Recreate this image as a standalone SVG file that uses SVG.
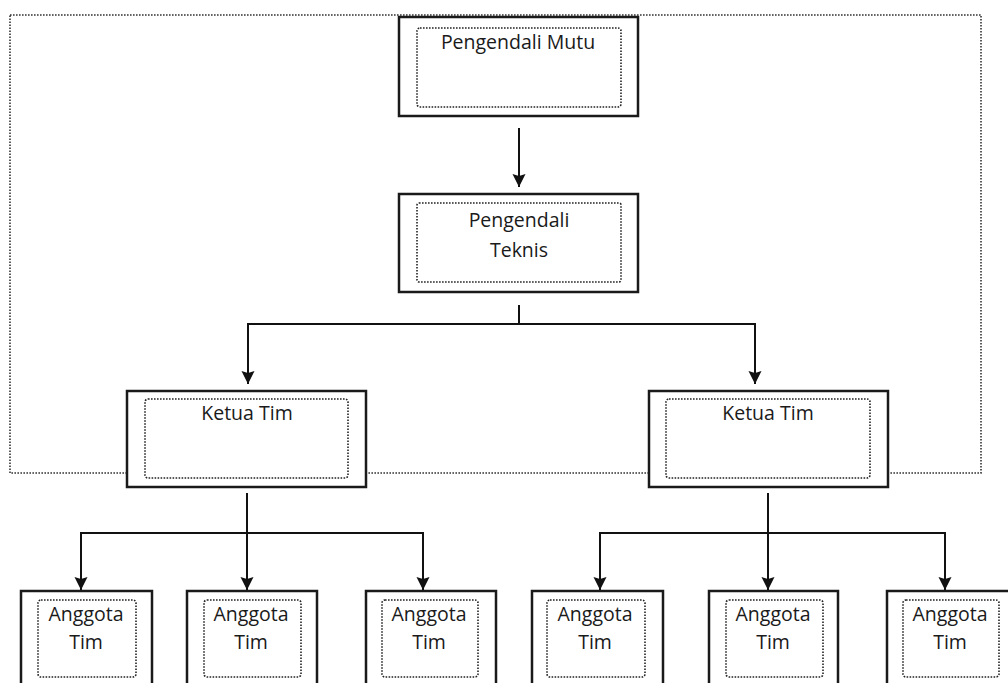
<svg xmlns="http://www.w3.org/2000/svg" width="1008" height="683" viewBox="0 0 1008 683">
  <style>
    .frame { fill: none; stroke: #333; stroke-width: 1.6; stroke-dasharray: 1.6 1.4; }
    .box { fill: #fff; stroke: #1a1a1a; stroke-width: 2.5; }
    .inner { fill: none; stroke: #222; stroke-width: 1.6; stroke-dasharray: 1.6 1.4; }
    .lbl { font-family: "Open Sans", "Liberation Sans", sans-serif; font-size: 19.5px; fill: #1a1a1a; text-anchor: middle; }
    .conn { fill: none; stroke: #111; stroke-width: 2; }
  </style>
  <defs>
    <marker id="arr" markerUnits="userSpaceOnUse" markerWidth="14" markerHeight="14" refX="13" refY="6.5" orient="auto">
      <path d="M0,0 L13,6.5 L0,13 L2,6.5 Z" fill="#111"/>
    </marker>
  </defs>
  <rect width="1008" height="683" fill="#fff"/>
  <rect class="frame" x="10" y="15" width="971" height="458"/>

  <g id="connectors">
    <line class="conn" x1="519" y1="128" x2="519" y2="187" marker-end="url(#arr)"/>
    <line class="conn" x1="519" y1="305" x2="519" y2="324"/>
    <polyline class="conn" points="248,384 248,324 755,324 755,384" marker-end="url(#arr)"/>
    <line class="conn" x1="248" y1="330" x2="248" y2="384" marker-end="url(#arr)"/>
    <line class="conn" x1="247" y1="493" x2="247" y2="590" marker-end="url(#arr)"/>
    <polyline class="conn" points="81,590 81,533 423,533 423,590"/>
    <line class="conn" x1="81" y1="540" x2="81" y2="590" marker-end="url(#arr)"/>
    <line class="conn" x1="423" y1="540" x2="423" y2="590" marker-end="url(#arr)"/>
    <line class="conn" x1="768" y1="493" x2="768" y2="590" marker-end="url(#arr)"/>
    <polyline class="conn" points="600,590 600,533 945,533 945,590"/>
    <line class="conn" x1="600" y1="540" x2="600" y2="590" marker-end="url(#arr)"/>
    <line class="conn" x1="945" y1="540" x2="945" y2="590" marker-end="url(#arr)"/>
  </g>

  <g id="pengendali-mutu">
    <rect class="box" x="399" y="17" width="239" height="99"/>
    <rect class="inner" x="417" y="28" width="204" height="79" rx="3"/>
    <text class="lbl" x="518" y="49">Pengendali Mutu</text>
  </g>
  <g id="pengendali-teknis">
    <rect class="box" x="399" y="194" width="239" height="98"/>
    <rect class="inner" x="417" y="203" width="204" height="79" rx="2"/>
    <text class="lbl" x="519" y="227">Pengendali</text>
    <text class="lbl" x="519" y="257">Teknis</text>
  </g>
  <g id="ketua-tim-1">
    <rect class="box" x="127" y="391" width="239" height="96"/>
    <rect class="inner" x="145" y="399" width="203" height="79" rx="3"/>
    <text class="lbl" x="247" y="420">Ketua Tim</text>
  </g>
  <g id="ketua-tim-2">
    <rect class="box" x="649" y="391" width="239" height="96"/>
    <rect class="inner" x="666" y="399" width="204" height="79" rx="3"/>
    <text class="lbl" x="768" y="420">Ketua Tim</text>
  </g>
  <g id="anggota-tim-1">
    <rect class="box" x="21" y="591" width="131" height="100"/>
    <rect class="inner" x="38" y="600" width="98" height="77" rx="3"/>
    <text class="lbl" x="86" y="621">Anggota</text>
    <text class="lbl" x="86" y="649">Tim</text>
  </g>
  <g id="anggota-tim-2">
    <rect class="box" x="187" y="591" width="130" height="100"/>
    <rect class="inner" x="204" y="600" width="97" height="77" rx="3"/>
    <text class="lbl" x="251" y="621">Anggota</text>
    <text class="lbl" x="251" y="649">Tim</text>
  </g>
  <g id="anggota-tim-3">
    <rect class="box" x="366" y="591" width="130" height="100"/>
    <rect class="inner" x="382" y="600" width="96" height="77" rx="3"/>
    <text class="lbl" x="429" y="621">Anggota</text>
    <text class="lbl" x="429" y="649">Tim</text>
  </g>
  <g id="anggota-tim-4">
    <rect class="box" x="532" y="591" width="131" height="100"/>
    <rect class="inner" x="547" y="600" width="98" height="77" rx="3"/>
    <text class="lbl" x="595" y="621">Anggota</text>
    <text class="lbl" x="595" y="649">Tim</text>
  </g>
  <g id="anggota-tim-5">
    <rect class="box" x="709" y="591" width="129" height="100"/>
    <rect class="inner" x="726" y="600" width="97" height="77" rx="3"/>
    <text class="lbl" x="773" y="621">Anggota</text>
    <text class="lbl" x="773" y="649">Tim</text>
  </g>
  <g id="anggota-tim-6">
    <rect class="box" x="887" y="591" width="131" height="100"/>
    <rect class="inner" x="903" y="600" width="96" height="77" rx="3"/>
    <text class="lbl" x="950" y="621">Anggota</text>
    <text class="lbl" x="950" y="649">Tim</text>
  </g>
</svg>
